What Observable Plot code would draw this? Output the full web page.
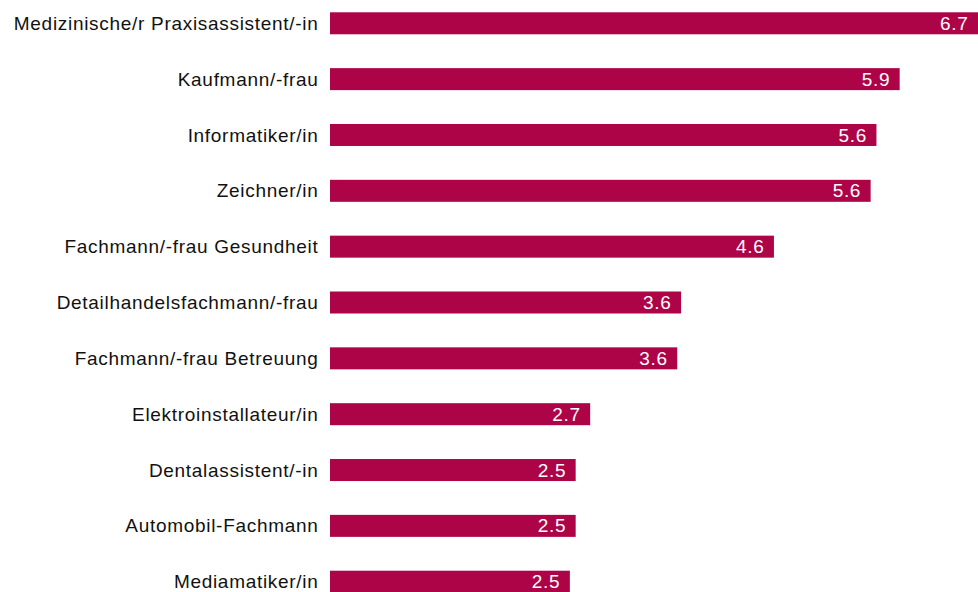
<!DOCTYPE html>
<html><head><meta charset="utf-8">
<script src="https://cdn.jsdelivr.net/npm/d3@7"></script>
<script src="https://cdn.jsdelivr.net/npm/@observablehq/plot@0.6"></script>
<style>
body{margin:0;background:#fff;}
#chart svg text{letter-spacing:0.7px;}
</style>
</head><body><div id="chart"></div>
<script>
const categories = [
  "Medizinische/r Praxisassistent/-in",
  "Kaufmann/-frau",
  "Informatiker/in",
  "Zeichner/in",
  "Fachmann/-frau Gesundheit",
  "Detailhandelsfachmann/-frau",
  "Fachmann/-frau Betreuung",
  "Elektroinstallateur/in",
  "Dentalassistent/-in",
  "Automobil-Fachmann",
  "Mediamatiker/in"
];
const values = [6.70, 5.89, 5.65, 5.59, 4.59, 3.63, 3.59, 2.69, 2.54, 2.54, 2.48];
const valueLabels = ["6.7", "5.9", "5.6", "5.6", "4.6", "3.6", "3.6", "2.7", "2.5", "2.5", "2.5"];

const data = categories.map((c, i) => ({job: c, value: values[i], label: valueLabels[i]}));

const chart = Plot.plot({
  width: 978,
  height: 592,
  marginLeft: 330,
  marginRight: 0,
  marginTop: 0,
  marginBottom: 0,
  style: {fontFamily: "'Liberation Sans', Arial, sans-serif", background: "#fff"},
  x: {domain: [0, 6.7], axis: null},
  y: {domain: categories, range: [0, 605], paddingInner: 0.606, paddingOuter: 0.22, round: false, axis: null},
  marks: [
    Plot.barX(data, {x: "value", y: "job", fill: "#ad0448"}),
    Plot.text(data, {x: "value", y: "job", text: "label", textAnchor: "end", dx: -10, dy: 0, fill: "white", fontSize: 19}),
    Plot.text(data, {x: 0, y: "job", text: "job", textAnchor: "end", dx: -12, fill: "#111", fontSize: 19})
  ]
});
document.getElementById("chart").appendChild(chart);
</script>
</body></html>
